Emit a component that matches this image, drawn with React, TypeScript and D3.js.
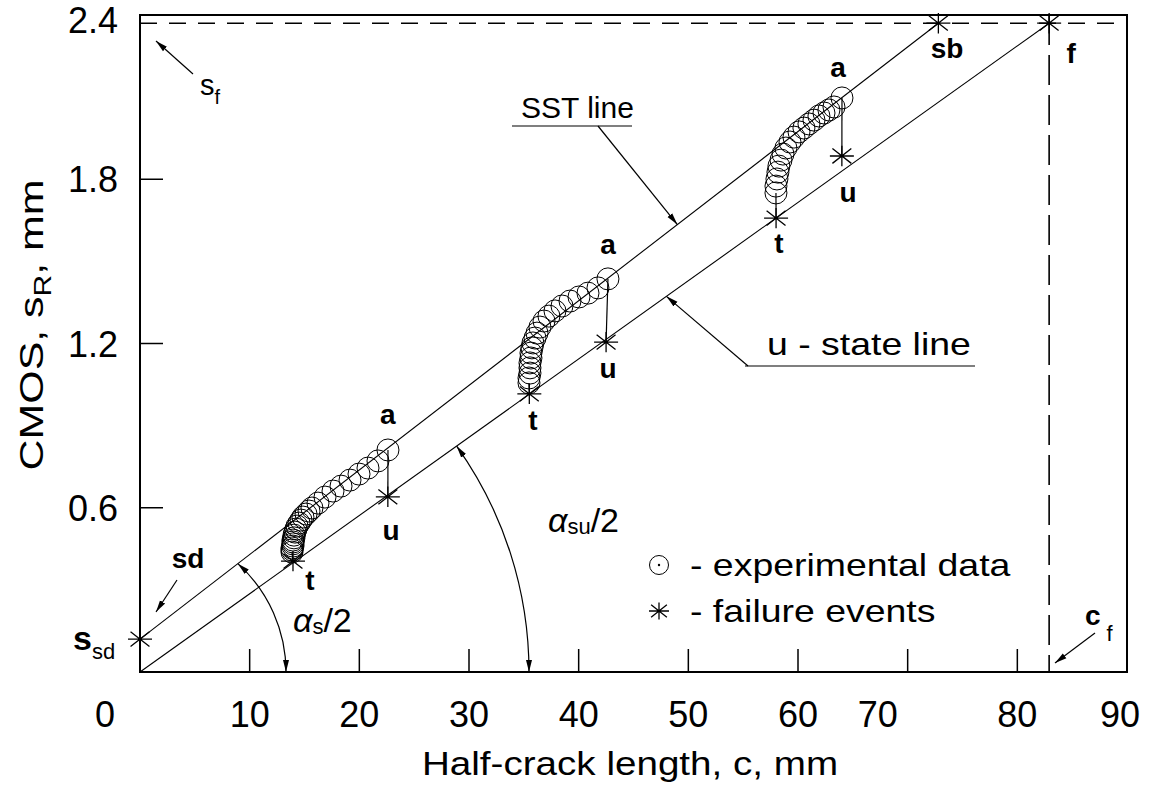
import React from 'react';
import * as d3 from 'd3';

// ---------- data ----------
const xLabelValues = [0, 10, 20, 30, 40, 50, 60, 70, 80, 90];
const xTickValues = [10, 20, 30, 40, 50, 60, 70, 80];
const yLabelValues = [0.6, 1.2, 1.8, 2.4];
const yTickValues = [0.6, 1.2, 1.8];

const sstLine: [number, number][] = [[0, 0.12], [72.8, 2.37]];
const uStateLine: [number, number][] = [[0, 0], [82.9, 2.37]];
const sF = 2.37;
const cF = 82.9;

const group1: [number, number][] = [
  [13.86, 0.438], [13.86, 0.446], [13.86, 0.453], [13.95, 0.460], [13.95, 0.468], [13.95, 0.475],
  [13.95, 0.482], [14.04, 0.490], [14.04, 0.500], [14.13, 0.511], [14.22, 0.522], [14.32, 0.533],
  [14.50, 0.544], [14.68, 0.555], [14.86, 0.566], [15.14, 0.577], [15.41, 0.588], [15.68, 0.599],
  [16.23, 0.617], [16.87, 0.639], [17.60, 0.661], [18.33, 0.679], [19.15, 0.701], [19.97, 0.723],
  [20.79, 0.745], [21.70, 0.771], [22.61, 0.811],
];
const group2: [number, number][] = [
  [35.47, 1.056], [35.47, 1.074], [35.56, 1.092], [35.56, 1.111], [35.56, 1.129], [35.65, 1.147],
  [35.65, 1.165], [35.74, 1.184], [35.83, 1.202], [36.02, 1.220], [36.20, 1.238], [36.47, 1.260],
  [36.84, 1.282], [37.29, 1.300], [37.84, 1.319], [38.48, 1.337], [39.21, 1.355], [40.03, 1.370],
  [40.85, 1.384], [41.76, 1.403], [42.67, 1.436],
];
const group3: [number, number][] = [
  [57.99, 1.750], [57.99, 1.775], [58.08, 1.801], [58.17, 1.826], [58.26, 1.848], [58.45, 1.870],
  [58.63, 1.892], [58.90, 1.914], [59.27, 1.936], [59.63, 1.954], [60.09, 1.973], [60.54, 1.987],
  [61.00, 2.002], [61.46, 2.016], [61.91, 2.031], [62.37, 2.042], [62.82, 2.053], [63.28, 2.064],
  [64.01, 2.097],
];
const groups = [group1, group2, group3];

const tEvents: [number, number][] = [[13.95, 0.405], [35.5, 1.016], [58.0, 1.658]];
const uEvents: [number, number][] = [[22.6, 0.64], [42.5, 1.205], [64.0, 1.885]];
const limitEvents: [number, number][] = [[0, 0.12], [72.8, 2.37], [82.9, 2.37]];

// event labels (text, data x, data y of baseline)
const eventLabels: { text: string; x: number; y: number }[] = [
  { text: 't', x: 15.5, y: 0.300 },
  { text: 'u', x: 22.9, y: 0.482 },
  { text: 'a', x: 22.6, y: 0.905 },
  { text: 't', x: 35.83, y: 0.884 },
  { text: 'u', x: 42.67, y: 1.074 },
  { text: 'a', x: 42.67, y: 1.527 },
  { text: 't', x: 58.27, y: 1.531 },
  { text: 'u', x: 64.56, y: 1.717 },
  { text: 'a', x: 63.65, y: 2.174 },
  { text: 'sb', x: 73.6, y: 2.243 },
  { text: 'f', x: 84.9, y: 2.225 },
  { text: 'sd', x: 4.38, y: 0.380 },
];

// ---------- layout ----------
const W = 1152, H = 790;
const x = d3.scaleLinear().domain([0, 90]).range([140, 1127]);
const y = d3.scaleLinear().domain([0, 2.4]).range([672, 15]);
const FONT = '"Liberation Sans", Arial, Helvetica, sans-serif';
const SX = 1.17;

const xLabelShift: Record<number, number> = { 0: -35, 70: -30, 90: -7 };

function lineAt(line: [number, number][], xv: number) {
  const [[x0, y0], [x1, y1]] = line;
  return y0 + (y1 - y0) * (xv - x0) / (x1 - x0);
}

function Star({ cx, cy, r = 12 }: { cx: number; cy: number; r?: number }) {
  const angles = [0, 90, 38, 142];
  const d = angles.map(a => {
    const rad = (a * Math.PI) / 180;
    const dx = Math.cos(rad) * r, dy = Math.sin(rad) * r * (a === 90 ? 0.85 : 1);
    return `M${cx - dx},${cy - dy}L${cx + dx},${cy + dy}`;
  }).join('');
  return <path d={d} stroke="#000" strokeWidth={1.3} fill="none" />;
}

function SText({ px, py, anchor = 'start', size = 32, weight = 'normal', sx = SX, children }: any) {
  return (
    <g transform={`translate(${px},${py}) scale(${sx},1)`}>
      <text textAnchor={anchor} fontSize={size} fontWeight={weight} fontFamily={FONT} fill="#000">{children}</text>
    </g>
  );
}

function arcFromLine(line: [number, number][], r: number) {
  const ox = x(0), oy = y(0);
  const ax = x(line[0][0]) - ox, ay = y(line[0][1]) - oy;
  const bx = x(line[1][0]) - ox, by = y(line[1][1]) - oy;
  const dx = bx - ax, dy = by - ay;
  const A = dx * dx + dy * dy, B = 2 * (ax * dx + ay * dy), C = ax * ax + ay * ay - r * r;
  const t = (-B + Math.sqrt(B * B - 4 * A * C)) / (2 * A);
  const px = ax + t * dx, py = ay + t * dy;
  const a0 = Math.atan2(py, px);
  const p = d3.path();
  p.arc(ox, oy, r, a0, 0, false);
  return p.toString();
}

export default function App() {
  const lineGen = d3.line<[number, number]>().x(d => x(d[0])).y(d => y(d[1]));

  const sstTipX = 49.0;
  const uTipX = 48.0;

  return (
    <svg width={W} height={H} viewBox={`0 0 ${W} ${H}`}
      style={{ position: 'absolute', left: 0, top: 0, background: '#fff', display: 'block' }}>
      <defs>
        <marker id="ah" viewBox="0 0 12 8" refX="12" refY="4" markerWidth="12" markerHeight="8"
          markerUnits="userSpaceOnUse" orient="auto-start-reverse">
          <path d="M0,1 L12,4 L0,7 Z" fill="#000" />
        </marker>
      </defs>
      <rect x={0} y={0} width={W} height={H} fill="#fff" />

      {/* dashed limit lines */}
      <line x1={x(0)} x2={x(90)} y1={y(sF)} y2={y(sF)} stroke="#000" strokeWidth={1.6} strokeDasharray="17 12" />
      <line x1={x(cF)} x2={x(cF)} y1={y(2.4)} y2={y(0)} stroke="#000" strokeWidth={1.6} strokeDasharray="30 10" />

      {/* SST and u-state lines */}
      <path d={lineGen(sstLine) || ''} stroke="#000" strokeWidth={1.1} fill="none" />
      <path d={lineGen(uStateLine) || ''} stroke="#000" strokeWidth={1.1} fill="none" />

      {/* vertical connectors */}
      {groups.map((g, i) => (
        <g key={'c' + i}>
          <line x1={x(g[g.length - 1][0])} x2={x(uEvents[i][0])} y1={y(g[g.length - 1][1])} y2={y(uEvents[i][1])} stroke="#000" strokeWidth={1.2} />
          <line x1={x(tEvents[i][0])} x2={x(g[0][0])} y1={y(tEvents[i][1])} y2={y(g[0][1])} stroke="#000" strokeWidth={1.2} />
        </g>
      ))}

      {/* experimental data circles */}
      {groups.map((g, i) => g.map((d, j) => (
        <circle key={`p${i}-${j}`} cx={x(d[0])} cy={y(d[1])} r={11} fill="none" stroke="#000" strokeWidth={1} />
      )))}

      {/* failure events */}
      {[...tEvents, ...uEvents, ...limitEvents].map((d, i) => (
        <Star key={'s' + i} cx={x(d[0])} cy={y(d[1])} />
      ))}

      {/* event labels */}
      {eventLabels.map((l, i) => (
        <text key={'l' + i} x={x(l.x)} y={y(l.y)} textAnchor="middle" fontSize={28} fontWeight="bold" fontFamily={FONT}>{l.text}</text>
      ))}

      {/* angle arcs */}
      <path d={arcFromLine(sstLine, 146)} stroke="#000" strokeWidth={1.2} fill="none" markerStart="url(#ah)" markerEnd="url(#ah)" />
      <path d={arcFromLine(uStateLine, 389)} stroke="#000" strokeWidth={1.2} fill="none" markerStart="url(#ah)" markerEnd="url(#ah)" />

      <text x={293} y={632} fontFamily={FONT} fontSize={34}>
        <tspan fontStyle="italic">α</tspan><tspan fontSize={22} dy={2}>s</tspan><tspan dy={-2}>/2</tspan>
      </text>
      <text x={548} y={532} fontFamily={FONT} fontSize={34}>
        <tspan fontStyle="italic">α</tspan><tspan fontSize={22} dy={2}>su</tspan><tspan dy={-2}>/2</tspan>
      </text>

      {/* SST line annotation */}
      <SText px={521} py={118} size={30} sx={1.0}>SST line</SText>
      <line x1={512} x2={632} y1={126} y2={126} stroke="#000" strokeWidth={1.2} />
      <line x1={598} y1={126} x2={x(sstTipX)} y2={y(lineAt(sstLine, sstTipX))} stroke="#000" strokeWidth={1.2} markerEnd="url(#ah)" />

      {/* u-state line annotation */}
      <SText px={767} py={355} size={32}>u - state line</SText>
      <line x1={745} x2={975} y1={366} y2={366} stroke="#000" strokeWidth={1.2} />
      <line x1={748} y1={366} x2={x(uTipX)} y2={y(lineAt(uStateLine, uTipX))} stroke="#000" strokeWidth={1.2} markerEnd="url(#ah)" />

      {/* s_f */}
      <line x1={193} y1={74} x2={156} y2={41} stroke="#000" strokeWidth={1.2} markerEnd="url(#ah)" />
      <text x={200} y={95} fontFamily={FONT} fontSize={29}>s<tspan fontSize={20} dy={9}>f</tspan></text>

      {/* sd arrow */}
      <line x1={177} y1={580} x2={156} y2={612} stroke="#000" strokeWidth={1.2} markerEnd="url(#ah)" />

      {/* s_sd */}
      <text x={73} y={650} fontFamily={FONT} fontSize={34} fontWeight="bold">s<tspan fontSize={22} fontWeight="normal" dy={9}>sd</tspan></text>

      {/* c_f */}
      <line x1={1095} y1={633} x2={1055} y2={663} stroke="#000" strokeWidth={1.2} markerEnd="url(#ah)" />
      <text x={1085} y={625} fontFamily={FONT} fontSize={28} fontWeight="bold">c<tspan fontSize={22} fontWeight="normal" dx={6} dy={16}>f</tspan></text>

      {/* legend */}
      <circle cx={659} cy={565} r={9.5} fill="none" stroke="#000" strokeWidth={1} />
      <circle cx={659} cy={565} r={1.2} fill="#000" />
      <SText px={690} py={576} size={32}>- experimental data</SText>
      <Star cx={659} cy={611} r={10} />
      <SText px={690} py={622} size={32}>- failure events</SText>

      {/* frame */}
      <rect x={x(0)} y={y(2.4)} width={x(90) - x(0)} height={y(0) - y(2.4)} fill="none" stroke="#000" strokeWidth={2} />

      {/* ticks */}
      {xTickValues.map(v => (
        <line key={'xt' + v} x1={x(v)} x2={x(v)} y1={y(0)} y2={y(0) - 23} stroke="#000" strokeWidth={1.5} />
      ))}
      {yTickValues.map(v => (
        <line key={'yt' + v} x1={x(0)} x2={x(0) + 23} y1={y(v)} y2={y(v)} stroke="#000" strokeWidth={1.5} />
      ))}

      {/* tick labels */}
      {xLabelValues.map(v => (
        <text key={'xl' + v} x={x(v) + (xLabelShift[v] || 0)} y={727} textAnchor="middle" fontSize={36} fontFamily={FONT}>{String(v)}</text>
      ))}
      {yLabelValues.map(v => (
        <text key={'yl' + v} x={118} y={y(v) + 13 + (v === 2.4 ? 5 : 0)} textAnchor="end" fontSize={36} fontFamily={FONT}>{v.toFixed(1)}</text>
      ))}

      {/* axis titles */}
      <SText px={630} py={775} anchor="middle" size={33}>Half-crack length, c, mm</SText>
      <g transform={`translate(43,325) rotate(-90) scale(1.3,1)`}>
        <text textAnchor="middle" fontSize={33} fontFamily={FONT}>CMOS, s<tspan fontSize={23} dy={8}>R</tspan><tspan dy={-8}>, mm</tspan></text>
      </g>
    </svg>
  );
}
